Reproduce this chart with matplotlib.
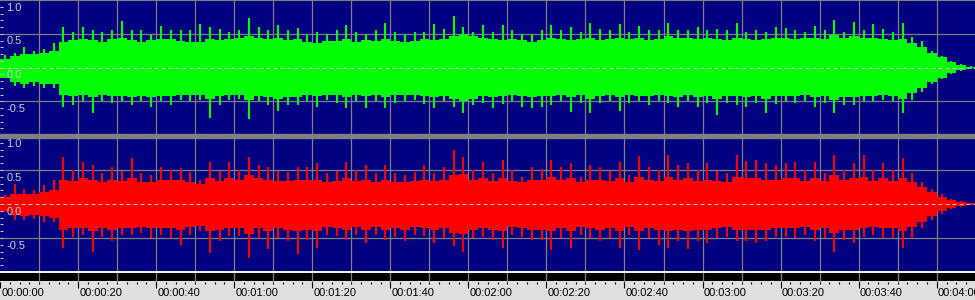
import matplotlib
matplotlib.use('Agg')
import matplotlib.pyplot as plt
import numpy as np

NAVY = '#000080'
GRID = '#808080'
GREEN = '#00ff00'
RED = '#ff0000'
RULER_BG = '#e0e0e0'

plt.rcParams['font.family'] = ['Liberation Sans', 'DejaVu Sans']

# time axis (seconds), one value per 2.5 s window
T_END = 249.8
win_t = np.arange(100) * 2.5 + 1.25

# channel 1 (green) - spike peak per window, upper / lower
g_peak_hi = [0.18, 0.22, 0.30, 0.25, 0.28, 0.36, 0.60, 0.52, 0.60, 0.55,
             0.52, 0.55, 0.69, 0.55, 0.55, 0.50, 0.62, 0.56, 0.55, 0.55,
             0.65, 0.60, 0.57, 0.52, 0.55, 0.74, 0.60, 0.56, 0.63, 0.55,
             0.58, 0.50, 0.52, 0.50, 0.55, 0.63, 0.52, 0.50, 0.55, 0.66,
             0.52, 0.50, 0.53, 0.52, 0.64, 0.57, 0.76, 0.60, 0.52, 0.63,
             0.52, 0.63, 0.55, 0.50, 0.50, 0.55, 0.63, 0.55, 0.60, 0.52,
             0.66, 0.57, 0.55, 0.64, 0.52, 0.62, 0.55, 0.55, 0.66, 0.55,
             0.55, 0.60, 0.55, 0.57, 0.55, 0.66, 0.52, 0.55, 0.52, 0.60,
             0.59, 0.55, 0.52, 0.61, 0.55, 0.70, 0.53, 0.68, 0.55, 0.64,
             0.57, 0.52, 0.66, 0.45, 0.39, 0.25, 0.17, 0.10, 0.05, 0.02]
g_peak_lo = [0.16, 0.28, 0.30, 0.27, 0.30, 0.30, 0.59, 0.55, 0.50, 0.68,
             0.49, 0.53, 0.50, 0.56, 0.50, 0.59, 0.50, 0.56, 0.48, 0.50,
             0.48, 0.75, 0.56, 0.48, 0.47, 0.77, 0.50, 0.56, 0.64, 0.56,
             0.56, 0.50, 0.58, 0.48, 0.52, 0.60, 0.50, 0.60, 0.50, 0.60,
             0.52, 0.50, 0.48, 0.54, 0.60, 0.50, 0.58, 0.68, 0.55, 0.52,
             0.60, 0.54, 0.50, 0.58, 0.60, 0.58, 0.55, 0.50, 0.66, 0.52,
             0.68, 0.52, 0.50, 0.64, 0.52, 0.50, 0.55, 0.50, 0.52, 0.58,
             0.50, 0.58, 0.52, 0.70, 0.52, 0.55, 0.58, 0.52, 0.68, 0.54,
             0.50, 0.52, 0.50, 0.58, 0.52, 0.68, 0.56, 0.56, 0.50, 0.50,
             0.48, 0.50, 0.68, 0.48, 0.36, 0.25, 0.17, 0.10, 0.05, 0.02]
# channel 1 dense body level per window
g_body_hi = [0.13, 0.17, 0.20, 0.20, 0.22, 0.25, 0.38, 0.40, 0.42, 0.40,
             0.38, 0.42, 0.44, 0.40, 0.38, 0.40, 0.42, 0.42, 0.40, 0.38,
             0.38, 0.42, 0.40, 0.42, 0.44, 0.46, 0.44, 0.42, 0.44, 0.40,
             0.42, 0.38, 0.36, 0.40, 0.40, 0.42, 0.38, 0.40, 0.40, 0.42,
             0.40, 0.38, 0.40, 0.42, 0.40, 0.42, 0.46, 0.50, 0.46, 0.44,
             0.42, 0.40, 0.42, 0.40, 0.38, 0.40, 0.44, 0.42, 0.40, 0.42,
             0.44, 0.40, 0.42, 0.44, 0.42, 0.44, 0.40, 0.42, 0.46, 0.44,
             0.44, 0.42, 0.44, 0.42, 0.40, 0.44, 0.42, 0.40, 0.42, 0.44,
             0.44, 0.42, 0.44, 0.44, 0.42, 0.48, 0.44, 0.46, 0.44, 0.44,
             0.42, 0.40, 0.42, 0.36, 0.30, 0.22, 0.15, 0.08, 0.04, 0.01]
g_body_lo = [0.15, 0.22, 0.24, 0.22, 0.24, 0.25, 0.40, 0.42, 0.40, 0.44,
             0.40, 0.42, 0.42, 0.44, 0.42, 0.44, 0.42, 0.42, 0.40, 0.40,
             0.40, 0.46, 0.42, 0.40, 0.40, 0.48, 0.42, 0.44, 0.46, 0.44,
             0.44, 0.40, 0.42, 0.40, 0.40, 0.44, 0.40, 0.42, 0.40, 0.44,
             0.40, 0.40, 0.40, 0.42, 0.44, 0.42, 0.46, 0.50, 0.46, 0.42,
             0.44, 0.42, 0.40, 0.42, 0.44, 0.42, 0.42, 0.40, 0.44, 0.40,
             0.46, 0.42, 0.40, 0.44, 0.40, 0.42, 0.42, 0.40, 0.42, 0.44,
             0.40, 0.44, 0.42, 0.46, 0.42, 0.42, 0.44, 0.42, 0.46, 0.42,
             0.42, 0.42, 0.40, 0.44, 0.42, 0.48, 0.44, 0.44, 0.42, 0.42,
             0.40, 0.42, 0.46, 0.38, 0.30, 0.22, 0.15, 0.08, 0.04, 0.01]

# channel 2 (red)
r_peak_hi = [0.13, 0.30, 0.22, 0.20, 0.28, 0.35, 0.69, 0.50, 0.62, 0.58,
             0.45, 0.55, 0.48, 0.68, 0.45, 0.42, 0.55, 0.50, 0.53, 0.47,
             0.35, 0.62, 0.48, 0.62, 0.50, 0.69, 0.58, 0.55, 0.48, 0.47,
             0.55, 0.55, 0.60, 0.45, 0.48, 0.62, 0.50, 0.57, 0.45, 0.57,
             0.45, 0.42, 0.47, 0.57, 0.45, 0.55, 0.79, 0.69, 0.50, 0.62,
             0.45, 0.65, 0.50, 0.40, 0.55, 0.52, 0.65, 0.55, 0.60, 0.40,
             0.57, 0.55, 0.48, 0.62, 0.42, 0.71, 0.55, 0.50, 0.72, 0.57,
             0.60, 0.50, 0.60, 0.48, 0.45, 0.72, 0.63, 0.65, 0.60, 0.58,
             0.60, 0.62, 0.50, 0.62, 0.45, 0.72, 0.50, 0.60, 0.72, 0.50,
             0.60, 0.50, 0.68, 0.45, 0.32, 0.22, 0.14, 0.08, 0.04, 0.02]
r_peak_lo = [0.12, 0.24, 0.24, 0.22, 0.27, 0.27, 0.65, 0.48, 0.45, 0.70,
             0.48, 0.55, 0.45, 0.45, 0.42, 0.50, 0.45, 0.50, 0.60, 0.45,
             0.40, 0.72, 0.55, 0.47, 0.47, 0.80, 0.50, 0.66, 0.50, 0.55,
             0.73, 0.53, 0.65, 0.45, 0.47, 0.53, 0.45, 0.57, 0.45, 0.53,
             0.48, 0.55, 0.45, 0.47, 0.57, 0.50, 0.62, 0.70, 0.50, 0.48,
             0.53, 0.65, 0.45, 0.48, 0.53, 0.53, 0.68, 0.50, 0.64, 0.45,
             0.50, 0.55, 0.50, 0.64, 0.45, 0.68, 0.50, 0.60, 0.64, 0.55,
             0.66, 0.55, 0.58, 0.50, 0.48, 0.55, 0.55, 0.58, 0.55, 0.48,
             0.48, 0.50, 0.45, 0.55, 0.50, 0.70, 0.53, 0.57, 0.48, 0.45,
             0.50, 0.50, 0.65, 0.50, 0.35, 0.24, 0.15, 0.08, 0.04, 0.02]
r_body_hi = [0.10, 0.15, 0.15, 0.15, 0.18, 0.20, 0.36, 0.34, 0.38, 0.36,
             0.32, 0.36, 0.34, 0.38, 0.32, 0.32, 0.36, 0.36, 0.36, 0.32,
             0.30, 0.38, 0.34, 0.38, 0.36, 0.42, 0.38, 0.36, 0.34, 0.34,
             0.36, 0.36, 0.36, 0.32, 0.34, 0.38, 0.34, 0.36, 0.32, 0.36,
             0.32, 0.32, 0.34, 0.36, 0.34, 0.36, 0.42, 0.44, 0.36, 0.38,
             0.34, 0.38, 0.34, 0.32, 0.36, 0.36, 0.40, 0.36, 0.38, 0.32,
             0.36, 0.36, 0.34, 0.38, 0.32, 0.40, 0.36, 0.34, 0.40, 0.36,
             0.38, 0.34, 0.36, 0.34, 0.32, 0.40, 0.38, 0.38, 0.36, 0.36,
             0.38, 0.38, 0.34, 0.38, 0.34, 0.42, 0.36, 0.38, 0.40, 0.34,
             0.38, 0.34, 0.38, 0.32, 0.25, 0.17, 0.11, 0.06, 0.03, 0.01]
r_body_lo = [0.10, 0.16, 0.17, 0.16, 0.18, 0.20, 0.38, 0.36, 0.36, 0.40,
             0.36, 0.38, 0.36, 0.36, 0.34, 0.36, 0.36, 0.36, 0.38, 0.34,
             0.32, 0.40, 0.38, 0.36, 0.36, 0.44, 0.36, 0.40, 0.36, 0.38,
             0.40, 0.38, 0.40, 0.34, 0.36, 0.38, 0.34, 0.38, 0.34, 0.38,
             0.36, 0.38, 0.34, 0.36, 0.38, 0.36, 0.42, 0.44, 0.38, 0.36,
             0.38, 0.40, 0.34, 0.36, 0.38, 0.38, 0.40, 0.36, 0.40, 0.34,
             0.36, 0.38, 0.36, 0.40, 0.34, 0.40, 0.36, 0.38, 0.40, 0.38,
             0.40, 0.38, 0.38, 0.36, 0.34, 0.38, 0.38, 0.38, 0.38, 0.36,
             0.36, 0.36, 0.34, 0.38, 0.36, 0.42, 0.38, 0.38, 0.36, 0.34,
             0.36, 0.36, 0.40, 0.34, 0.26, 0.18, 0.11, 0.06, 0.03, 0.01]

y_ticks = [1.0, 0.5, 0.0, -0.5]
ruler_labels = ['00:00:00', '00:00:20', '00:00:40', '00:01:00', '00:01:20',
                '00:01:40', '00:02:00', '00:02:20', '00:02:40', '00:03:00',
                '00:03:20', '00:03:40', '00:04:00']

W, H = 975, 300
fig = plt.figure(figsize=(W / 100, H / 100), dpi=100)
fig.patch.set_facecolor(NAVY)


def px_axes(x0, y0, x1, y1):
    # axes placed by pixel box (top-left origin)
    return fig.add_axes([x0 / W, 1 - y1 / H, (x1 - x0) / W, (y1 - y0) / H])


def channel(ax, color, peak_hi, peak_lo, body_hi, body_lo):
    ax.set_facecolor(NAVY)
    ax.set_xlim(0, T_END)
    ax.set_ylim(-1, 1)
    for s in ax.spines.values():
        s.set_visible(False)
    ax.set_xticks([])
    ax.set_yticks([])
    for t in np.arange(10, T_END, 10):
        ax.axvline(t, color=GRID, lw=0.9, zorder=1)
    for v in (0.5, -0.5):
        ax.axhline(v, color=GRID, lw=0.9, zorder=1)
    hi, lo = np.array(body_hi), np.array(body_lo)
    ax.bar(win_t, hi + lo, bottom=-lo, width=2.5, color=color, lw=0,
           zorder=2)
    ax.vlines(win_t, -np.array(peak_lo), peak_hi, color=color, lw=1.5,
              zorder=2)
    ax.axhline(0, color='#c8c8c8', lw=0.72, ls=(0, (4, 3)), zorder=3)
    # small marks on the left edge every 0.1
    for v in np.arange(-0.9, 1.0, 0.1):
        ax.plot([0, 0.8], [v, v], color='#c8c8c8', lw=0.72, zorder=4,
                solid_capstyle='butt')
    for v in y_ticks:
        ax.text(1.6, v - 0.04, f'{v:.1f}', color='#d0d0d0', fontsize=8,
                va='top', ha='left', zorder=5)


ax1 = px_axes(0, 0, W, 135)
channel(ax1, GREEN, g_peak_hi, g_peak_lo, g_body_hi, g_body_lo)
ax1.axhline(1.0, color=GRID, lw=1.5, zorder=4)

ax2 = px_axes(0, 136, W, 272)
channel(ax2, RED, r_peak_hi, r_peak_lo, r_body_hi, r_body_lo)

# separator between channels
fig.patches.append(plt.Rectangle((0, 1 - 138 / H), 1, 4 / H,
                                 transform=fig.transFigure, color=GRID,
                                 zorder=10))

# time ruler
axr = px_axes(0, 271, W, H)
axr.set_xlim(0, T_END)
axr.set_ylim(29, 0)
axr.set_facecolor(RULER_BG)
for s in axr.spines.values():
    s.set_visible(False)
axr.set_xticks([])
axr.set_yticks([])
axr.axhspan(0, 1.8, color='#f0f0f0', lw=0)
axr.axhspan(1.8, 10, color='black', lw=0)
for t in np.arange(10, T_END, 10):
    axr.plot([t, t], [1.8, 10], color=GRID, lw=0.9)
minor = np.arange(0, T_END, 2.5)
axr.vlines(minor, 10.5, 13, color='black', lw=0.8)
major = np.arange(0, T_END, 20)
axr.vlines(major, 10.5, 17, color='black', lw=0.8)
for t, lab in zip(major, ruler_labels):
    axr.text(t + 0.3, 17.2, lab, fontsize=8, color='black', va='top',
             ha='left')

fig.savefig('out.png', dpi=100, facecolor=fig.get_facecolor())
